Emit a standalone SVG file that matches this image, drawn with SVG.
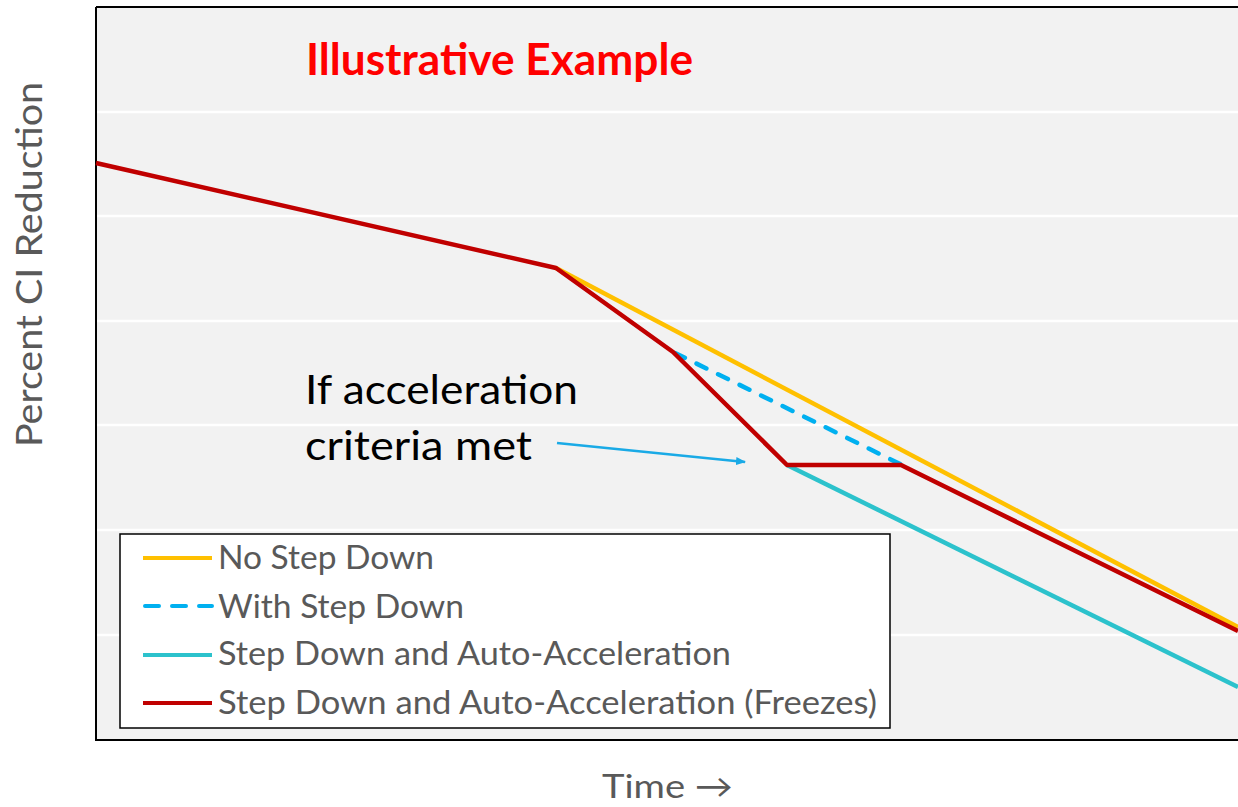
<svg xmlns="http://www.w3.org/2000/svg" width="1238" height="807" viewBox="0 0 1238 807">
<defs>
<style>
.grid{stroke:#ffffff;stroke-width:2.5}
.series{fill:none;stroke-width:4.5;stroke-linejoin:round}
.lab{font-family:Lato,"Open Sans","DejaVu Sans",sans-serif;fill:#595959}
.note{font-family:Lato,"Open Sans","DejaVu Sans",sans-serif;fill:#000000}
</style>
<marker id="ah" markerWidth="10" markerHeight="8" refX="9" refY="4" orient="auto" markerUnits="userSpaceOnUse" viewBox="0 0 10 8">
<path d="M0,0 L10,4 L0,8 Z" fill="#1AAAE6"/>
</marker>
</defs>
<rect x="0" y="0" width="1238" height="807" fill="#ffffff"/>
<g id="plot-area">
<rect x="96" y="7" width="1142" height="733" fill="#F2F2F2"/>
<line class="grid" x1="97" y1="112" x2="1238" y2="112"/>
<line class="grid" x1="97" y1="216" x2="1238" y2="216"/>
<line class="grid" x1="97" y1="321" x2="1238" y2="321"/>
<line class="grid" x1="97" y1="425" x2="1238" y2="425"/>
<line class="grid" x1="97" y1="530" x2="1238" y2="530"/>
<line class="grid" x1="97" y1="635" x2="1238" y2="635"/>
<path d="M96,7 H1238 M96,7 V740 H1238" fill="none" stroke="#000" stroke-width="2"/>
</g>
<g id="connectors">
<polyline id="no-step-down" class="series" stroke="#FFC000" points="556,268 1238,627"/>
<polyline id="with-step-down" class="series" stroke="#00B0F0" stroke-dasharray="11 13" stroke-linecap="round" points="675,353 902,465"/>
<polyline id="auto-accel" class="series" stroke="#2CC2CC" points="787,465 1238,687"/>
<polyline id="freezes" class="series" stroke="#C00000" points="96,163 556,268 673,352 787,465 901,465 1238,631"/>
<line id="callout-arrow" x1="557" y1="443" x2="745" y2="462" stroke="#1AAAE6" stroke-width="2.5" marker-end="url(#ah)"/>
</g>
<g id="title">
<text x="306" y="75" font-family="Lato,'Open Sans',sans-serif" font-weight="bold" font-size="44" fill="#FF0000" textLength="387" lengthAdjust="spacingAndGlyphs">Illustrative Example</text>
</g>
<g id="annotation">
<text class="note" x="305" y="404" font-size="40" textLength="273" lengthAdjust="spacingAndGlyphs">If acceleration</text>
<text class="note" x="305" y="460" font-size="40" textLength="227" lengthAdjust="spacingAndGlyphs">criteria met</text>
</g>
<g id="legend">
<rect x="120" y="534" width="770" height="194" fill="#ffffff" stroke="#000" stroke-width="1.5"/>
<line x1="143" y1="558" x2="212" y2="558" stroke="#FFC000" stroke-width="4"/>
<line x1="145" y1="606" x2="212" y2="606" stroke="#00B0F0" stroke-width="4" stroke-dasharray="14 13" stroke-linecap="round"/>
<line x1="143" y1="655" x2="212" y2="655" stroke="#2CC2CC" stroke-width="4"/>
<line x1="143" y1="703" x2="212" y2="703" stroke="#C00000" stroke-width="4"/>
<text class="lab" x="218" y="569" font-size="32" textLength="216" lengthAdjust="spacingAndGlyphs">No Step Down</text>
<text class="lab" x="218" y="618" font-size="32" textLength="246" lengthAdjust="spacingAndGlyphs">With Step Down</text>
<text class="lab" x="218" y="665" font-size="32" textLength="513" lengthAdjust="spacingAndGlyphs">Step Down and Auto-Acceleration</text>
<text class="lab" x="218" y="714" font-size="32" textLength="659" lengthAdjust="spacingAndGlyphs">Step Down and Auto-Acceleration (Freezes)</text>
</g>
<g id="axis-labels">
<text class="lab" transform="translate(42,447) rotate(-90)" x="0" y="0" font-size="36" textLength="365" lengthAdjust="spacingAndGlyphs">Percent CI Reduction</text>
<text class="lab" x="602" y="798" font-size="33" textLength="131" lengthAdjust="spacingAndGlyphs">Time →</text>
</g>
</svg>
